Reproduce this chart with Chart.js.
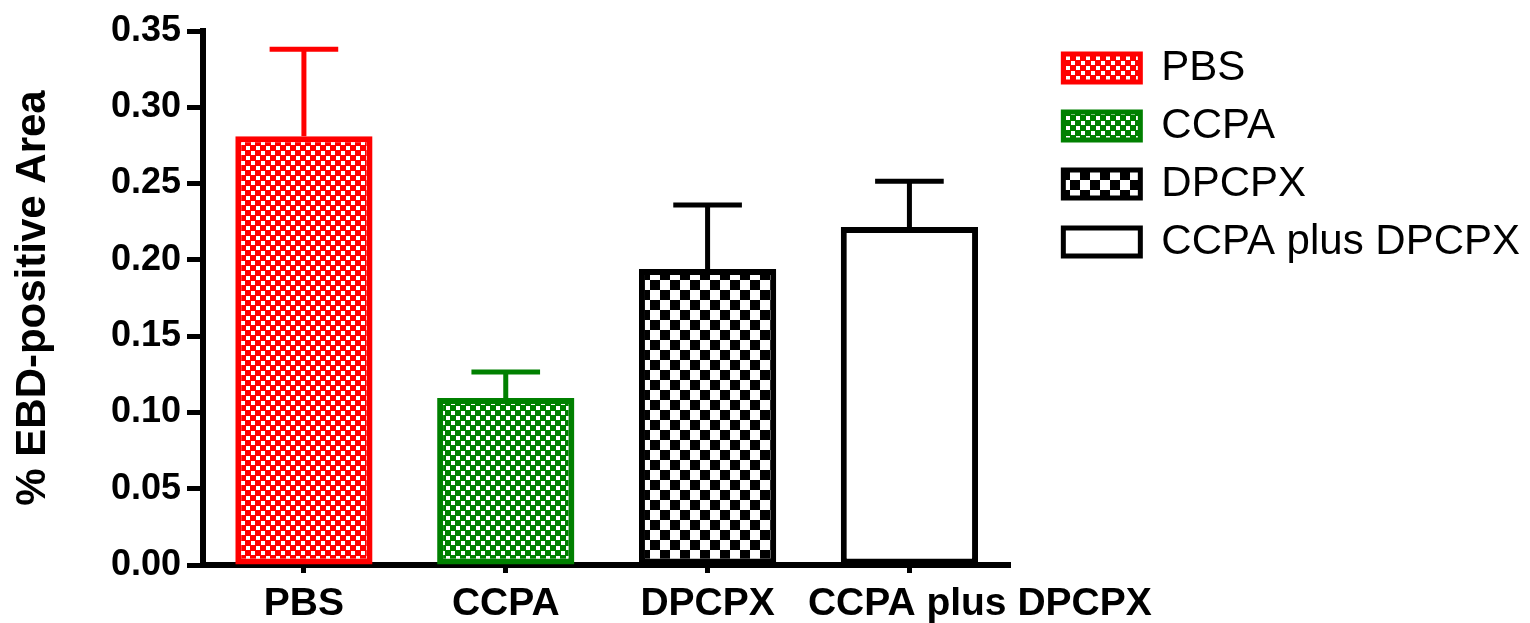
<!DOCTYPE html>
<html>
<head>
<meta charset="utf-8">
<script src="https://cdn.jsdelivr.net/npm/chart.js@4.4.1/dist/chart.umd.min.js"></script>
<style>
  html, body { margin: 0; padding: 0; background: #fff; }
  canvas { display: block; }
</style>
</head>
<body>
<canvas id="chart" width="1530" height="623"></canvas>
<script>
const categories = ['PBS', 'CCPA', 'DPCPX', 'CCPA plus DPCPX'];
const means = [0.281, 0.1095, 0.194, 0.2215];
const sems = [0.057, 0.017, 0.042, 0.030];
const yTicks = [0, 0.05, 0.10, 0.15, 0.20, 0.25, 0.30, 0.35];
const lineColors = ['#ff0000', '#008000', '#000000', '#000000'];
const fillKinds = ['dots', 'dots', 'check', 'none'];

const FONT = "'Liberation Sans', Arial, sans-serif";

// small tiles repeated as canvas patterns for the hatched bars
function makePattern(kind, color) {
  const c = document.createElement('canvas');
  const g = c.getContext('2d');
  if (kind === 'dots') {
    c.width = 10; c.height = 10;
    g.fillStyle = color;
    g.fillRect(0, 0, 10, 10);
    g.fillStyle = '#fff';
    g.fillRect(1, 1, 4, 4);
    g.fillRect(6, 6, 4, 4);
  } else if (kind === 'check') {
    c.width = 20; c.height = 20;
    g.fillStyle = color;
    g.fillRect(0, 0, 20, 20);
    g.fillStyle = '#fff';
    g.fillRect(0, 0, 10, 10);
    g.fillRect(10, 10, 10, 10);
  } else {
    return '#ffffff';
  }
  return g.createPattern(c, 'repeat');
}

const fills = fillKinds.map((k, i) => makePattern(k, lineColors[i]));

// upward SEM bars with a cap
const errorBars = {
  id: 'errorBars',
  afterDatasetsDraw(chart) {
    const ctx = chart.ctx;
    const y = chart.scales.y;
    const meta = chart.getDatasetMeta(0);
    ctx.save();
    ctx.lineWidth = 5;
    meta.data.forEach((bar, i) => {
      const top = y.getPixelForValue(means[i] + sems[i]);
      const half = bar.width * 0.25;
      ctx.strokeStyle = lineColors[i];
      ctx.beginPath();
      ctx.moveTo(bar.x, bar.y);
      ctx.lineTo(bar.x, top);
      ctx.moveTo(bar.x - half, top);
      ctx.lineTo(bar.x + half, top);
      ctx.stroke();
    });
    ctx.restore();
  }
};

// the long last label sits to the right of its tick, as in the original
const xLabel = (v, i) => i === categories.length - 1
  ? '\u00a0'.repeat(13) + categories[i]
  : categories[i];

new Chart(document.getElementById('chart'), {
  type: 'bar',
  data: {
    labels: categories,
    datasets: [{
      data: means,
      backgroundColor: fills,
      borderColor: lineColors,
      borderWidth: 6,
      borderSkipped: false,
      barPercentage: 0.68,
      categoryPercentage: 1
    }]
  },
  options: {
    responsive: false,
    devicePixelRatio: 1,
    animation: false,
    layout: { padding: { top: 31, left: 0, right: 0, bottom: 0 } },
    plugins: {
      tooltip: { enabled: false },
      legend: {
        position: 'right',
        align: 'start',
        maxWidth: 520,
        onClick: null,
        labels: {
          boxWidth: 77,
          boxHeight: 28,
          padding: 16,
          color: '#000',
          font: { family: FONT, size: 42 },
          generateLabels: () => categories.map((c, i) => ({
            text: c,
            fillStyle: fills[i],
            strokeStyle: lineColors[i],
            lineWidth: 5,
            hidden: false,
            datasetIndex: 0,
            index: i
          }))
        }
      }
    },
    scales: {
      x: {
        offset: true,
        grid: { drawOnChartArea: false, offset: false, tickLength: 8, tickWidth: 5, tickColor: '#000', color: '#000' },
        border: { color: '#000', width: 6 },
        ticks: { color: '#000', padding: 8, maxRotation: 0, autoSkip: false, callback: xLabel,
                 font: { family: FONT, size: 39, weight: 'bold' } },
        afterFit(s) { s.height = 58; }
      },
      y: {
        min: 0,
        max: 0.35,
        afterBuildTicks(s) { s.ticks = yTicks.map(v => ({ value: v })); },
        grid: { drawOnChartArea: false, tickLength: 16, tickWidth: 5, tickColor: '#000', color: '#000' },
        border: { color: '#000', width: 6 },
        ticks: { color: '#000', padding: 6, callback: v => v.toFixed(2),
                 font: { family: FONT, size: 36, weight: 'bold' } },
        title: { display: true, text: '% EBD-positive Area', color: '#000',
                 padding: { top: 8, bottom: 0 },
                 font: { family: FONT, size: 42, weight: 'bold' } },
        afterFit(s) { s.width = 203; }
      },
      gap: {
        type: 'linear',
        position: 'right',
        grid: { display: false },
        border: { display: false },
        ticks: { display: false },
        afterFit(s) { s.width = 37; }
      }
    }
  },
  plugins: [errorBars]
});
</script>
</body>
</html>
